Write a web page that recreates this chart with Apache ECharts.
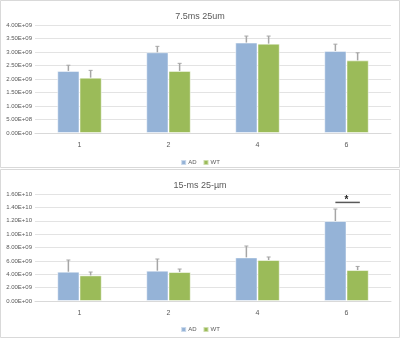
<!DOCTYPE html>
<html>
<head>
<meta charset="utf-8">
<script src="https://cdn.jsdelivr.net/npm/echarts@6/dist/echarts.min.js"></script>
<style>
  html, body { margin: 0; padding: 0; background: #fff; }
  #main { width: 400px; height: 338px; }
</style>
</head>
<body>
<div id="main"></div>
<script>
const categories = ['1', '2', '4', '6'];

// panel 1: 7.5ms 25um
const ad1 = [2.30e9, 2.99e9, 3.35e9, 3.04e9];
const ad1Err = [0.21e9, 0.22e9, 0.24e9, 0.25e9];
const wt1 = [2.05e9, 2.30e9, 3.31e9, 2.69e9];
const wt1Err = [0.27e9, 0.28e9, 0.28e9, 0.28e9];

// panel 2: 15-ms 25-µm
const ad2 = [4.38e9, 4.53e9, 6.52e9, 11.96e9];
const ad2Err = [1.75e9, 1.75e9, 1.70e9, 1.79e9];
const wt2 = [3.83e9, 4.33e9, 6.13e9, 4.63e9];
const wt2Err = [0.50e9, 0.45e9, 0.45e9, 0.54e9];

// significance marker (category index, height)
const sigMarks = [[3, 14.74e9]];

const blue = '#95B3D7';
const green = '#9BBB59';
const errColor = '#A6A6A6';
const textColor = '#595959';

function sci(v) {
  if (v === 0) return '0.00E+00';
  let e = Math.floor(Math.log10(Math.abs(v)) + 1e-9);
  let m = v / Math.pow(10, e);
  return m.toFixed(2) + 'E+' + (e < 10 ? '0' + e : e);
}

function errSeries(vals, errs, axisIdx, side) {
  return {
    type: 'custom',
    xAxisIndex: axisIdx,
    yAxisIndex: axisIdx,
    silent: true,
    z: 5,
    data: vals.map((v, i) => [i, v, v + errs[i]]),
    renderItem: (params, api) => {
      let cw = api.size([1, 0])[0];
      let base = api.coord([api.value(0), api.value(1)]);
      let top = api.coord([api.value(0), api.value(2)]);
      let x = base[0] + side * cw * 0.125;
      return {
        type: 'group',
        children: [
          { type: 'line', shape: { x1: x, y1: base[1], x2: x, y2: top[1] },
            style: { stroke: errColor, lineWidth: 1.5 } },
          { type: 'line', shape: { x1: x - 2, y1: top[1], x2: x + 2, y2: top[1] },
            style: { stroke: errColor, lineWidth: 1 } }
        ]
      };
    }
  };
}

function barSeries(name, vals, axisIdx, color) {
  return {
    name,
    type: 'bar',
    xAxisIndex: axisIdx,
    yAxisIndex: axisIdx,
    data: vals,
    barWidth: '25%',
    barGap: '0%',
    itemStyle: { color, borderColor: 'rgba(255,255,255,0.5)', borderWidth: 1 }
  };
}

function xAxisCfg(gridIndex) {
  return {
    type: 'category',
    gridIndex,
    data: categories,
    axisLine: { lineStyle: { color: '#D9D9D9' } },
    axisTick: { show: false },
    axisLabel: { color: textColor, fontSize: 7, margin: 9, fontFamily: 'Liberation Sans' }
  };
}

function yAxisCfg(gridIndex, max, interval) {
  return {
    type: 'value',
    gridIndex,
    min: 0,
    max,
    interval,
    axisLine: { show: false },
    axisTick: { show: false },
    splitLine: { lineStyle: { color: '#E3E3E3' } },
    axisLabel: { color: textColor, fontSize: 6, margin: 3, formatter: sci, fontFamily: 'Liberation Sans' }
  };
}

const chart = echarts.init(document.getElementById('main'));
chart.setOption({
  animation: false,
  backgroundColor: '#fff',
  graphic: [
    { type: 'rect', shape: { x: 0.5, y: 0.5, width: 399, height: 167 },
      style: { fill: 'none', stroke: '#D9D9D9', lineWidth: 1 }, z: -1 },
    { type: 'rect', shape: { x: 0.5, y: 169.5, width: 399, height: 168 },
      style: { fill: 'none', stroke: '#D9D9D9', lineWidth: 1 }, z: -1 }
  ],
  title: [
    { text: '7.5ms 25um', left: 'center', top: 7,
      textStyle: { fontSize: 9, fontWeight: 'normal', color: textColor, fontFamily: 'Liberation Sans' } },
    { text: '15-ms 25-µm', left: 'center', top: 176,
      textStyle: { fontSize: 9, fontWeight: 'normal', color: textColor, fontFamily: 'Liberation Sans' } }
  ],
  legend: [
    { data: ['AD', 'WT'], left: 'center', top: 154, itemWidth: 5, itemHeight: 5, itemGap: 6,
      icon: 'rect', textStyle: { fontSize: 6, color: textColor, padding: [0, 0, 0, -3] } },
    { data: ['AD', 'WT'], left: 'center', top: 321, itemWidth: 5, itemHeight: 5, itemGap: 6,
      icon: 'rect', textStyle: { fontSize: 6, color: textColor, padding: [0, 0, 0, -3] } }
  ],
  grid: [
    { left: 35, right: 9, top: 25, height: 108 },
    { left: 35, right: 9, top: 194, height: 107 }
  ],
  xAxis: [xAxisCfg(0), xAxisCfg(1)],
  yAxis: [yAxisCfg(0, 4e9, 5e8), yAxisCfg(1, 1.6e10, 2e9)],
  series: [
    barSeries('AD', ad1, 0, blue),
    barSeries('WT', wt1, 0, green),
    errSeries(ad1, ad1Err, 0, -1),
    errSeries(wt1, wt1Err, 0, 1),
    barSeries('AD', ad2, 1, blue),
    barSeries('WT', wt2, 1, green),
    errSeries(ad2, ad2Err, 1, -1),
    errSeries(wt2, wt2Err, 1, 1),
    {
      type: 'custom',
      xAxisIndex: 1,
      yAxisIndex: 1,
      silent: true,
      z: 6,
      data: sigMarks,
      renderItem: (params, api) => {
        let cw = api.size([1, 0])[0];
        let p = api.coord([api.value(0), api.value(1)]);
        return {
          type: 'group',
          children: [
            { type: 'line', shape: { x1: p[0] - cw * 0.125, y1: p[1], x2: p[0] + cw * 0.15, y2: p[1] },
              style: { stroke: '#595959', lineWidth: 1.5 } },
            { type: 'text', x: p[0], y: p[1] + 3,
              style: { text: '*', fontSize: 10, fontWeight: 'bold', fill: '#262626',
                       align: 'center', verticalAlign: 'bottom' } }
          ]
        };
      }
    }
  ]
});
</script>
</body>
</html>
